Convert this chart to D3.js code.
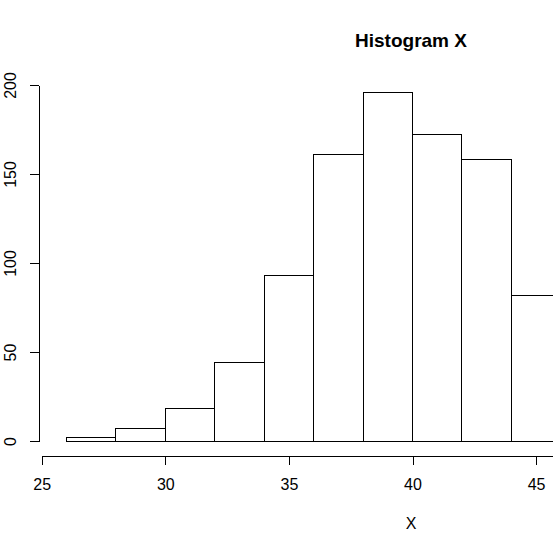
<!DOCTYPE html>
<html>
<head>
<meta charset="utf-8">
<script src="https://cdn.jsdelivr.net/npm/d3@7"></script>
<style>
  body { margin: 0; background: #fff; }
  svg { display: block; font-family: "Liberation Sans", Arial, sans-serif; }
</style>
</head>
<body>
<div id="chart-area"></div>
<script>
const width = 553;
const height = 553;

// bin edges and counts (last bin runs past the right edge)
const binStarts = [26, 28, 30, 32, 34, 36, 38, 40, 42, 44];
const binWidth = 2;
const counts = [2, 7, 18, 44, 93, 161, 196, 172, 158, 82];
const xTicks = [25, 30, 35, 40, 45];
const yTicks = [0, 50, 100, 150, 200];

const svg = d3.select("#chart-area")
    .append("svg")
    .attr("width", width)
    .attr("height", height);

// 25 -> 41.7px, 24.72px per unit; axis keeps going past the frame
const x = d3.scaleLinear()
    .domain([25, 50])
    .range([41.7, 41.7 + 25 * 24.72]);

const y = d3.scaleLinear()
    .domain([0, 200])
    .range([441, 85]);

// bars
svg.append("g")
    .selectAll("rect")
    .data(binStarts)
    .join("rect")
    .attr("x", d => x(d))
    .attr("y", (d, i) => y(counts[i]))
    .attr("width", x(binWidth) - x(0))
    .attr("height", (d, i) => y(0) - y(counts[i]))
    .attr("fill", "none")
    .attr("stroke", "#000")
    .attr("stroke-width", 1)
    .attr("shape-rendering", "crispEdges");

// x axis, offset below the bars like R does
const xAxis = svg.append("g")
    .attr("transform", "translate(0, 455.5)")
    .call(d3.axisBottom(x).tickValues(xTicks).tickSize(9).tickSizeOuter(0).tickPadding(14));
xAxis.select(".domain").attr("stroke", "#000").attr("shape-rendering", "crispEdges");
xAxis.selectAll(".tick line").attr("stroke", "#000").attr("shape-rendering", "crispEdges");
xAxis.selectAll("text")
    .style("font-size", "16px")
    .attr("fill", "#000")
    .attr("dy", "0.71em");

// y axis, labels rotated
const yAxis = svg.append("g")
    .attr("transform", "translate(38.5, 0)")
    .call(d3.axisLeft(y).tickValues(yTicks).tickSize(9).tickSizeOuter(0));
yAxis.select(".domain").attr("stroke", "#000").attr("shape-rendering", "crispEdges");
yAxis.selectAll(".tick line").attr("stroke", "#000").attr("shape-rendering", "crispEdges");
yAxis.selectAll("text")
    .style("font-size", "16px")
    .attr("fill", "#000")
    .attr("text-anchor", "middle")
    .attr("x", 0)
    .attr("dy", 0)
    .attr("transform", "translate(-22.5, 0) rotate(-90)");

// title and axis label
svg.append("text")
    .attr("x", 411)
    .attr("y", 47)
    .attr("text-anchor", "middle")
    .style("font-size", "19px")
    .style("font-weight", "bold")
    .text("Histogram X");

svg.append("text")
    .attr("x", 411)
    .attr("y", 529)
    .attr("text-anchor", "middle")
    .style("font-size", "16px")
    .text("X");
</script>
</body>
</html>
